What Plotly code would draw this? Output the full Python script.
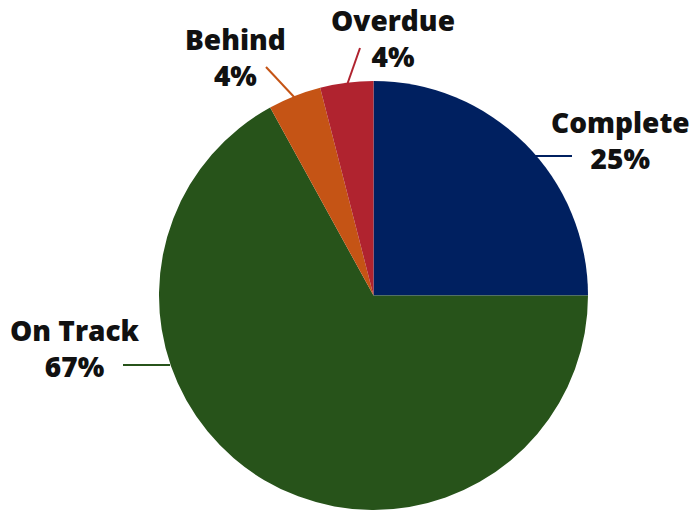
import plotly.graph_objects as go

# ---- data ----
labels = ["Complete", "On Track", "Behind", "Overdue"]
values = [25, 67, 4, 4]
colors = ["#002060", "#27531a", "#c55415", "#b0232f"]

# ---- layout geometry (pixels) ----
W, H = 690, 510
L, R, T, B = 57, 0, 81, 0
pw, ph = W - L - R, H - T - B


def px(x):
    return (x - L) / pw


def py(y):
    return (H - B - y) / ph


# label block centres and leader lines, in pixels
label_pos = {
    "Complete": (620, 140),
    "On Track": (75, 348),
    "Behind": (235, 57),
    "Overdue": (393, 38),
}
leaders = {
    "Complete": ((535, 156), (572, 156)),
    "On Track": ((123, 365), (170, 365)),
    "Behind": ((266, 67), (295, 98)),
    "Overdue": ((360, 48), (347, 85)),
}

total = sum(values)
FONT = dict(family="Open Sans", size=28, color="#111111", weight=800)

fig = go.Figure(
    go.Pie(
        labels=labels,
        values=values,
        sort=False,
        direction="clockwise",
        rotation=0,
        marker=dict(colors=colors, line=dict(width=0)),
        textinfo="none",
        hoverinfo="label+percent",
        showlegend=False,
        domain=dict(x=[0, 1], y=[0, 1]),
    )
)

annotations = []
shapes = []
for lab, val, col in zip(labels, values, colors):
    cx, cy = label_pos[lab]
    pct = round(val / total * 100)
    annotations.append(
        dict(
            x=px(cx), y=py(cy), xref="paper", yref="paper",
            text=f"{lab}<br>{pct}%", showarrow=False,
            xanchor="center", yanchor="middle", align="center",
            font=FONT,
        )
    )
    (x0, y0), (x1, y1) = leaders[lab]
    shapes.append(
        dict(
            type="line", xref="paper", yref="paper",
            x0=px(x0), y0=py(y0), x1=px(x1), y1=py(y1),
            line=dict(color=col, width=2),
        )
    )

fig.update_layout(
    width=W, height=H,
    margin=dict(l=L, r=R, t=T, b=B, autoexpand=False),
    paper_bgcolor="white",
    plot_bgcolor="white",
    annotations=annotations,
    shapes=shapes,
)

fig.write_html("out.html")
